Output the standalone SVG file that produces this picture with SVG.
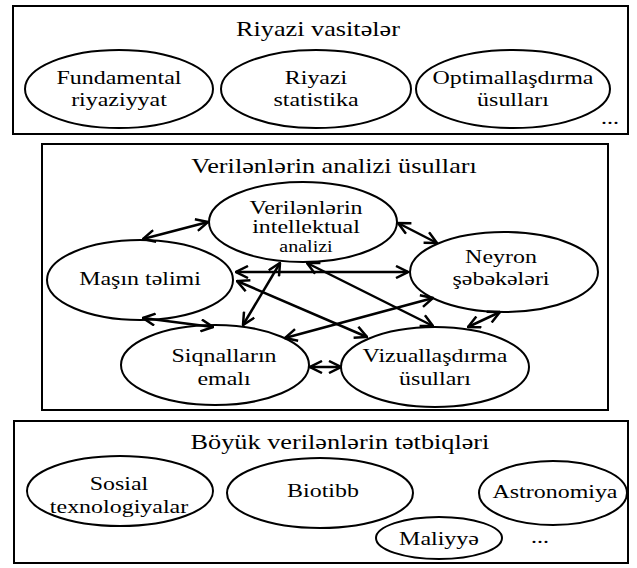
<svg xmlns="http://www.w3.org/2000/svg" width="637" height="568" viewBox="0 0 637 568" font-family="'Liberation Serif', 'Times New Roman', 'DejaVu Serif', serif">
<style>
.box{fill:none;stroke:#000;stroke-width:2}
.el{fill:#fff;stroke:#000;stroke-width:2}
.eo{fill:none;stroke:#000;stroke-width:2}
text{font-family:'Liberation Serif','Times New Roman','DejaVu Serif',serif;fill:#000;text-anchor:middle}
.t{font-size:21px}
.n{font-size:19px}
.s{font-size:16px}
.c{stroke:#000;stroke-width:2.5;fill:none;marker-start:url(#ah);marker-end:url(#ah)}
</style>
<defs>
<marker id="ah" viewBox="0 0 14 14" refX="13" refY="7" markerWidth="14" markerHeight="14" markerUnits="userSpaceOnUse" orient="auto-start-reverse">
<path d="M1,1 L13,7 L1,13" fill="none" stroke="#000" stroke-width="2.5"/>
</marker>
</defs>
<rect fill="#fff" width="637" height="568"/>
<g id="box-riyazi">
<rect class="box" x="13" y="6" width="615" height="128"/>
<text class="t" transform="translate(318 36) scale(1.25 1)">Riyazi vasitələr</text>
</g>
<g id="n-fundamental">
<ellipse class="el" cx="119" cy="89" rx="94" ry="39"/>
<text class="n" transform="translate(119 84) scale(1.26 1)">Fundamental</text>
<text class="n" transform="translate(119 106) scale(1.26 1)">riyaziyyat</text>
</g>
<g id="n-statistika">
<ellipse class="el" cx="316" cy="89" rx="95" ry="39"/>
<text class="n" transform="translate(316 84) scale(1.26 1)">Riyazi</text>
<text class="n" transform="translate(316 106) scale(1.26 1)">statistika</text>
</g>
<g id="n-optimal">
<ellipse class="el" cx="513" cy="89" rx="97" ry="39"/>
<text class="n" transform="translate(513 84) scale(1.26 1)">Optimallaşdırma</text>
<text class="n" transform="translate(513 106) scale(1.26 1)">üsulları</text>
</g>
<text class="n" transform="translate(610 124) scale(1.26 1)">...</text>
<g id="box-analiz">
<rect class="box" x="42" y="144" width="566" height="266"/>
<text class="t" transform="translate(334 173) scale(1.25 1)">Verilənlərin analizi üsulları</text>
</g>
<g id="connectors">
<line class="c" x1="143" y1="239" x2="208" y2="222"/>
<line class="c" x1="398" y1="223" x2="437" y2="243"/>
<line class="c" x1="236" y1="272" x2="408" y2="272"/>
<line class="c" x1="237" y1="281" x2="367" y2="337"/>
<line class="c" x1="280" y1="263" x2="243" y2="325"/>
<line class="c" x1="307" y1="263" x2="433" y2="326"/>
<line class="c" x1="285" y1="338" x2="433" y2="298"/>
<line class="c" x1="143" y1="318" x2="213" y2="327"/>
<line class="c" x1="310" y1="367" x2="341" y2="367"/>
<line class="c" x1="468" y1="327" x2="500" y2="312"/>
</g>
<g id="n-intellektual">
<ellipse class="eo" cx="303" cy="222" rx="94" ry="40"/>
<text class="n" transform="translate(306 214) scale(1.26 1)">Verilənlərin</text>
<text class="n" transform="translate(306 233) scale(1.26 1)">intellektual</text>
<text class="s" transform="translate(306 252) scale(1.25 1)">analizi</text>
</g>
<g id="n-masin">
<ellipse class="eo" cx="140" cy="280" rx="93" ry="40"/>
<text class="n" transform="translate(140 285) scale(1.26 1)">Maşın təlimi</text>
</g>
<g id="n-neyron">
<ellipse class="eo" cx="504" cy="272" rx="94" ry="40"/>
<text class="n" transform="translate(501 263) scale(1.26 1)">Neyron</text>
<text class="n" transform="translate(501 285) scale(1.26 1)">şəbəkələri</text>
</g>
<g id="n-siqnal">
<ellipse class="eo" cx="215" cy="365" rx="94" ry="40"/>
<text class="n" transform="translate(224 362) scale(1.26 1)">Siqnalların</text>
<text class="n" transform="translate(224 385) scale(1.26 1)">emalı</text>
</g>
<g id="n-vizual">
<ellipse class="eo" cx="435" cy="367" rx="94" ry="40"/>
<text class="n" transform="translate(435 362) scale(1.26 1)">Vizuallaşdırma</text>
<text class="n" transform="translate(435 385) scale(1.26 1)">üsulları</text>
</g>
<g id="box-tetbiq">
<rect class="box" x="14" y="421" width="614" height="142"/>
<text class="t" transform="translate(340 449) scale(1.25 1)">Böyük verilənlərin tətbiqləri</text>
</g>
<g id="n-sosial">
<ellipse class="el" cx="120" cy="491" rx="93" ry="35"/>
<text class="n" transform="translate(119 490) scale(1.26 1)">Sosial</text>
<text class="n" transform="translate(119 513) scale(1.26 1)">texnologiyalar</text>
</g>
<g id="n-biotibb">
<ellipse class="el" cx="320" cy="493" rx="93" ry="35"/>
<text class="n" transform="translate(323 497) scale(1.26 1)">Biotibb</text>
</g>
<g id="n-astronomiya">
<ellipse class="el" cx="553" cy="493" rx="74" ry="32"/>
<text class="n" transform="translate(555 498) scale(1.26 1)">Astronomiya</text>
</g>
<g id="n-maliyye">
<ellipse class="el" cx="439" cy="538" rx="63" ry="21"/>
<text class="n" transform="translate(439 545) scale(1.26 1)">Maliyyə</text>
</g>
<text class="n" transform="translate(540 543) scale(1.26 1)">...</text>
</svg>
